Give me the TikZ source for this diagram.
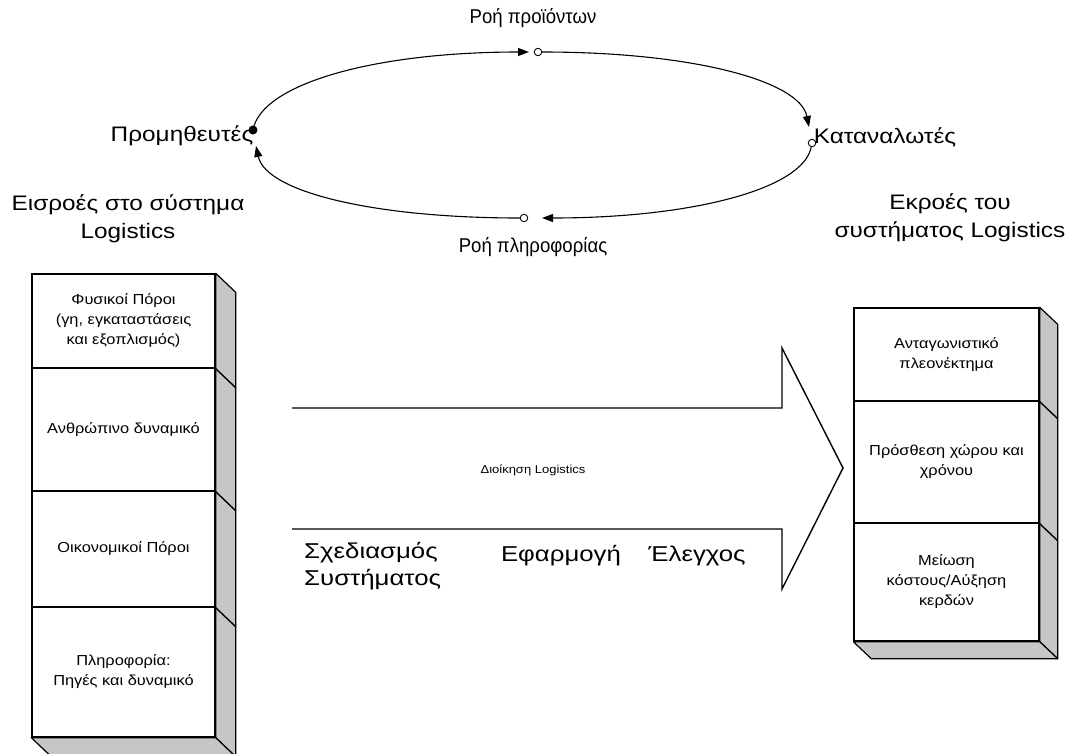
\documentclass[tikz,border=0pt]{standalone}
\usepackage{fontspec}
\setmainfont{Liberation Sans}
\newfontfamily\wideA[FakeStretch=1.16]{Liberation Sans}
\newfontfamily\wideB[FakeStretch=1.2]{Liberation Sans}
\newfontfamily\wideC[FakeStretch=1.13]{Liberation Sans}
\newfontfamily\narrowA[FakeStretch=0.93]{Liberation Sans}
\usetikzlibrary{arrows.meta}
\begin{document}
\begin{tikzpicture}[x=1pt,y=-1pt,
  big/.style={font=\wideA\fontsize{21}{28}\selectfont, align=center, inner sep=0},
  flowlabel/.style={font=\narrowA\fontsize{20}{22}\selectfont, align=center, inner sep=0},
  step3/.style={font=\wideB\fontsize{21.5}{27}\selectfont, align=center, inner sep=0},
  frontbox/.style={draw, line width=1.4pt, fill=white, inner sep=0, align=center,
    font=\wideC\fontsize{14.5}{20}\selectfont},
  leftbox/.style={frontbox, minimum width=183pt},
  rightbox/.style={frontbox, minimum width=185pt},
  sideface/.style={fill=gray!45, draw, line width=1.2pt, line join=round},
  flow/.style={line width=1.1pt, -{Triangle[length=11pt,width=8pt]}},
  opendot/.style={circle, draw, fill=white, inner sep=0, minimum size=7.5pt, line width=0.9pt},
  fulldot/.style={circle, fill=black, inner sep=0, minimum size=9pt},
  bigarrow/.style={line width=1.4pt, line join=miter},
]
\useasboundingbox (0,0) rectangle (1076,753);
\clip (0,0) rectangle (1076,753);

% ---------- cycle at the top ----------
\coordinate (prodtip) at (529,52);
\coordinate (constip) at (809,127);
\coordinate (infotip) at (542,218);
\coordinate (suptip) at (256,146);
\node[opendot] (prod) at (538,52) {};
\node[opendot] (cons) at (812,143) {};
\node[opendot] (info) at (524,218) {};

\draw[flow] (253,130) coordinate (supstart) .. controls +(8,-46) and +(-155,0) .. (prodtip);
\draw[flow] (prod) .. controls +(155,0) and +(-9,-46) .. (constip);
\draw[flow] (cons) .. controls +(-9,46) and +(150,0) .. (infotip);
\draw[flow] (info) .. controls +(-150,0) and +(10,46) .. (suptip);

\node[big] (lsup) at (182,136) {Προμηθευτές};
\node[fulldot] (sup) at (253,130) {};
\node[flowlabel] (lprod) at (533,18) {Ροή προϊόντων};
\node[big] (lcons) at (885,137) {Καταναλωτές};
\node[flowlabel] (linfo) at (533,247) {Ροή πληροφορίας};
\node[big] (lin) at (128,219) {Εισροές στο σύστημα\\Logistics};
\node[big] (lout) at (950,218) {Εκροές του\\συστήματος Logistics};

% ---------- left stack ----------
\node[leftbox, minimum height=94pt] (L1) at (123.5,321) {Φυσικοί Πόροι\\(γη, εγκαταστάσεις\\και εξοπλισμός)};
\node[leftbox, minimum height=123pt] (L2) at (123.5,429.5) {Ανθρώπινο δυναμικό};
\node[leftbox, minimum height=116pt] (L3) at (123.5,549) {Οικονομικοί Πόροι};
\node[leftbox, minimum height=130pt] (L4) at (123.5,672) {Πληροφορία:\\Πηγές και δυναμικό};

\draw[sideface] (L1.north east) -- ++(20,19) -- ([shift={(20,19)}]L4.south east) -- (L4.south east) -- cycle;
\draw[sideface] (L4.south west) -- ([shift={(20,19)}]L4.south west) -- ([shift={(20,19)}]L4.south east) -- (L4.south east) -- cycle;
\draw[line width=1.4pt] (L1.south east) -- ++(20,19);
\draw[line width=1.4pt] (L2.south east) -- ++(20,19);
\draw[line width=1.4pt] (L3.south east) -- ++(20,19);

% ---------- right stack ----------
\node[rightbox, minimum height=93pt] (R1) at (946.5,354.5) {Ανταγωνιστικό\\πλεονέκτημα};
\node[rightbox, minimum height=122pt] (R2) at (946.5,462) {Πρόσθεση χώρου και\\χρόνου};
\node[rightbox, minimum height=118pt] (R3) at (946.5,582) {Μείωση\\κόστους/Αύξηση\\κερδών};

\draw[sideface] (R1.north east) -- ++(18,17) -- ([shift={(18,17)}]R3.south east) -- (R3.south east) -- cycle;
\draw[sideface] (R3.south west) -- ([shift={(18,17)}]R3.south west) -- ([shift={(18,17)}]R3.south east) -- (R3.south east) -- cycle;
\draw[line width=1.4pt] (R1.south east) -- ++(18,17);
\draw[line width=1.4pt] (R2.south east) -- ++(18,17);

% ---------- big arrow ----------
\coordinate (a1) at (292,408);
\coordinate (a2) at (782,408);
\coordinate (a3) at (782,348);
\coordinate (a4) at (843,468);
\coordinate (a5) at (782,589);
\coordinate (a6) at (782,529);
\coordinate (a7) at (292,529);
\draw[bigarrow] (a1) -- (a2) -- (a3) -- (a4) -- (a5) -- (a6) -- (a7);

\node[font=\wideC\fontsize{11.5}{14}\selectfont] (mgmt) at (533,470) {Διοίκηση Logistics};
\node[step3, anchor=west, align=left] (plan) at (304,566) {Σχεδιασμός\\Συστήματος};
\node[step3] (impl) at (561,556) {Εφαρμογή};
\node[step3] (ctrl) at (697,556) {Έλεγχος};
\end{tikzpicture}
\end{document}
